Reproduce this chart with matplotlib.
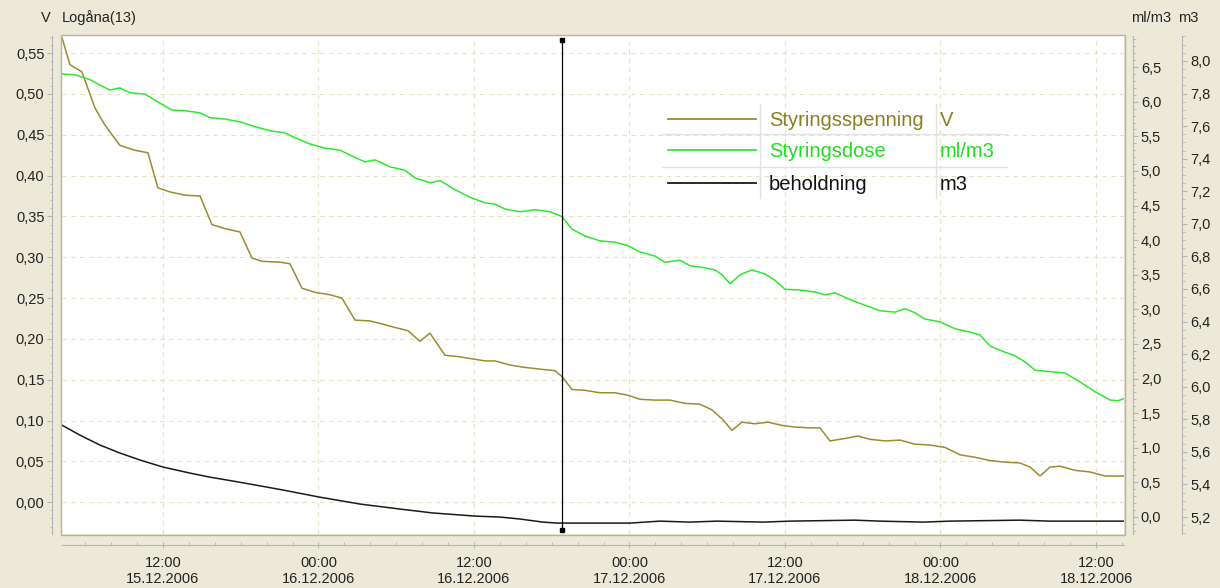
import datetime as dt
import matplotlib
matplotlib.use("Agg")
import matplotlib.pyplot as plt
import matplotlib.dates as mdates
from matplotlib.lines import Line2D
from matplotlib.patches import Rectangle
from matplotlib.ticker import MultipleLocator, AutoMinorLocator, FuncFormatter
from matplotlib import rcParams

rcParams['font.family'] = ['Liberation Sans', 'DejaVu Sans']
rcParams['font.size'] = 10.5

# --- data (hours after 15.12.2006 00:00) ---
base = dt.datetime(2006, 12, 15, 0, 0)

spenning_h = [4.21, 4.82, 5.75, 6.75, 7.52, 8.68, 9.84, 10.84, 11.61, 12.54, 13.70, 14.86,
              15.78, 16.78, 17.94, 18.87, 19.64, 21.03, 21.80, 22.73, 23.73, 24.89, 25.81,
              26.82, 27.97, 28.98, 29.90, 30.91, 31.83, 32.60, 33.76, 34.92, 35.69, 36.85,
              37.62, 38.78, 39.94, 41.09, 42.25, 42.79, 43.56, 44.57, 45.72, 46.88, 47.88,
              48.81, 49.97, 51.13, 52.28, 53.44, 54.37, 55.14, 55.91, 56.68, 57.68, 58.69,
              59.77, 60.77, 61.93, 62.70, 63.47, 64.63, 65.63, 66.56, 67.72, 68.88, 70.03,
              71.19, 72.35, 73.50, 74.66, 75.82, 76.98, 78.13, 78.91, 79.68, 80.45, 81.22,
              82.38, 83.54, 84.70, 86.16]
spenning_v = [0.569, 0.536, 0.527, 0.483, 0.462, 0.437, 0.431, 0.428, 0.385, 0.380, 0.376, 0.375,
              0.340, 0.335, 0.331, 0.299, 0.295, 0.294, 0.292, 0.262, 0.257, 0.254, 0.250,
              0.223, 0.222, 0.218, 0.214, 0.210, 0.197, 0.207, 0.180, 0.178, 0.176, 0.173,
              0.173, 0.168, 0.165, 0.163, 0.161, 0.154, 0.138, 0.137, 0.134, 0.134, 0.131,
              0.126, 0.125, 0.125, 0.121, 0.120, 0.113, 0.102, 0.088, 0.098, 0.096, 0.098,
              0.094, 0.092, 0.091, 0.091, 0.075, 0.078, 0.081, 0.077, 0.075, 0.076, 0.071,
              0.070, 0.067, 0.058, 0.055, 0.051, 0.049, 0.048, 0.043, 0.032, 0.043, 0.044,
              0.039, 0.037, 0.032, 0.032]

dose_h = [4.21, 5.21, 6.37, 7.14, 7.91, 8.68, 9.45, 10.61, 11.77, 12.69, 13.70, 14.86, 15.63,
          16.78, 17.94, 19.10, 20.26, 21.41, 22.19, 23.34, 24.50, 25.66, 26.43, 27.59, 28.36,
          29.52, 30.68, 31.45, 32.60, 33.38, 34.53, 35.69, 36.85, 37.62, 38.39, 39.55, 40.71,
          41.87, 42.79, 43.56, 44.57, 45.72, 46.88, 47.88, 48.81, 49.97, 50.74, 51.90, 52.67,
          53.83, 54.60, 55.14, 55.76, 56.53, 57.45, 58.46, 59.23, 60.00, 61.16, 62.31, 63.09,
          63.86, 65.02, 66.17, 67.33, 68.49, 69.26, 70.03, 70.80, 71.96, 73.12, 74.28, 75.05,
          75.82, 76.98, 77.75, 78.52, 79.29, 80.45, 81.61, 82.77, 83.92, 85.08, 85.70, 86.16]
dose_v = [6.40, 6.39, 6.32, 6.24, 6.17, 6.20, 6.13, 6.11, 5.98, 5.88, 5.87, 5.84, 5.77,
          5.75, 5.71, 5.64, 5.58, 5.55, 5.48, 5.39, 5.33, 5.30, 5.23, 5.13, 5.16,
          5.06, 5.01, 4.90, 4.83, 4.86, 4.73, 4.62, 4.54, 4.52, 4.45, 4.41, 4.44,
          4.41, 4.34, 4.16, 4.06, 3.99, 3.97, 3.92, 3.83, 3.77, 3.68, 3.71, 3.63,
          3.60, 3.57, 3.50, 3.37, 3.50, 3.57, 3.51, 3.42, 3.29, 3.28, 3.25, 3.21,
          3.24, 3.14, 3.06, 2.98, 2.96, 3.01, 2.95, 2.86, 2.82, 2.72, 2.67, 2.63,
          2.47, 2.38, 2.33, 2.24, 2.12, 2.10, 2.08, 1.95, 1.81, 1.69, 1.68, 1.71]

beh_h = [4.21, 5.59, 7.14, 8.68, 10.23, 12.00, 14.08, 15.63, 17.40, 19.18, 21.26, 24.04,
         27.20, 30.29, 32.84, 36.08, 38.01, 39.55, 41.32, 42.41, 45.72, 48.04, 50.35,
         52.67, 54.75, 58.30, 60.39, 65.40, 67.33, 70.65, 72.73, 78.13, 80.45, 86.16]
beh_v = [5.764, 5.703, 5.642, 5.593, 5.550, 5.507, 5.470, 5.445, 5.421, 5.396, 5.366, 5.323,
         5.280, 5.249, 5.225, 5.206, 5.200, 5.188, 5.169, 5.163, 5.163, 5.163, 5.175,
         5.169, 5.175, 5.169, 5.175, 5.181, 5.175, 5.169, 5.175, 5.181, 5.175, 5.175]

cursor_h = 42.79
t_start_h, t_end_h = 4.21, 86.16

series_names = ['Styringsspenning', 'Styringsdose', 'beholdning']
series_units = ['V', 'ml/m3', 'm3']
c_spenning = '#9a8c30'
c_dose = '#2ee82e'
c_beh = '#1a1a1a'
series_colors = [c_spenning, c_dose, c_beh]


def to_time(hours):
    return [base + dt.timedelta(hours=h) for h in hours]


W, H = 1220, 588
fx = lambda px: px / W
fy = lambda py: 1 - py / H

bg = '#ece9d8'
tick_c = '#b4b4b4'
text_c = '#222222'
grid_c = '#e6e2c6'

fig = plt.figure(figsize=(12.2, 5.88), dpi=100, facecolor=bg)
ax = fig.add_axes([fx(62), fy(534), fx(1124) - fx(62), (534 - 36) / H])
ax.set_facecolor('white')
ax2 = ax.twinx()
ax3 = ax.twinx()

ax.plot(to_time(spenning_h), spenning_v, color=c_spenning, lw=1.1)
ax2.plot(to_time(dose_h), dose_v, color=c_dose, lw=1.1)
ax3.plot(to_time(beh_h), beh_v, color=c_beh, lw=1.1)

ax.set_xlim(base + dt.timedelta(hours=t_start_h), base + dt.timedelta(hours=t_end_h))
ax.set_ylim(-0.039, 0.571)
ax2.set_ylim(-0.246, 6.95)
ax3.set_ylim(5.096, 8.153)

comma = lambda d: FuncFormatter(lambda v, p: f"{v:.{d}f}".replace('.', ','))

# left axis
ax.yaxis.set_major_locator(MultipleLocator(0.05))
ax.yaxis.set_minor_locator(AutoMinorLocator(5))
ax.yaxis.set_major_formatter(comma(2))
ax.tick_params(axis='y', which='major', direction='out', length=3.6, color=tick_c,
               labelcolor=text_c, pad=2)
ax.tick_params(axis='y', which='minor', direction='out', length=1.8, color=tick_c)

# time axis
ax.xaxis.set_major_locator(mdates.HourLocator(byhour=[0, 12]))
ax.xaxis.set_minor_locator(mdates.HourLocator(byhour=range(0, 24, 2)))
ax.xaxis.set_major_formatter(mdates.DateFormatter('%H:%M\n%d.%m.%Y'))
ax.tick_params(axis='x', which='major', direction='inout', length=4.5, color=tick_c,
               labelcolor=text_c, pad=5.5)
ax.tick_params(axis='x', which='minor', direction='in', length=2, color=tick_c)

for s in ['top', 'right']:
    ax.spines[s].set_visible(False)
ax.spines['left'].set_position(('outward', 7))
ax.spines['bottom'].set_position(('outward', 8))
ax.spines['left'].set_color(tick_c)
ax.spines['bottom'].set_color(tick_c)

ax.grid(True, which='major', color=grid_c, ls=(0, (4, 4)), lw=0.8)
ax.set_axisbelow(True)

# right axes
for a, off, step, minor, dec in [(ax2, 6.5, 0.5, 5, 1), (ax3, 42, 0.2, 4, 1)]:
    for s in ['top', 'left', 'bottom']:
        a.spines[s].set_visible(False)
    a.spines['right'].set_position(('outward', off))
    a.spines['right'].set_color(tick_c)
    a.yaxis.set_major_locator(MultipleLocator(step))
    a.yaxis.set_minor_locator(AutoMinorLocator(minor))
    a.yaxis.set_major_formatter(comma(dec))
    a.tick_params(axis='y', which='major', direction='out', length=3.6, color=tick_c,
                  labelcolor=text_c, pad=2)
    a.tick_params(axis='y', which='minor', direction='out', length=1.8, color=tick_c)

# plot frame
fig.add_artist(Rectangle((fx(61), fy(535)), fx(1125) - fx(61), (535 - 35) / H,
                         transform=fig.transFigure, fill=False, ec='#b8b4a2', lw=1))

# cursor
cx = mdates.date2num(base + dt.timedelta(hours=cursor_h))
ax3.plot([cx, cx], [0.008, 0.992], transform=ax3.get_xaxis_transform(), color='black',
         lw=0.9, marker='s', ms=3.5, clip_on=False)

# axis captions
fig.text(fx(46), fy(18), 'V', ha='center', va='center', color=text_c)
fig.text(fx(62), fy(18), 'Logåna(13)', ha='left', va='center', color=text_c)
fig.text(fx(1131), fy(18), 'ml/m3', ha='left', va='center', color=text_c)
fig.text(fx(1178), fy(18), 'm3', ha='left', va='center', color=text_c)

# legend table
row_y = [119, 150, 183]
sep_c = '#e2e2e2'
for y in [134, 167]:
    fig.add_artist(Line2D([fx(662), fx(1007)], [fy(y), fy(y)], transform=fig.transFigure,
                          color=sep_c, lw=1))
for x in [760, 936]:
    fig.add_artist(Line2D([fx(x), fx(x)], [fy(104), fy(198)], transform=fig.transFigure,
                          color=sep_c, lw=1))
for y, name, unit, col in zip(row_y, series_names, series_units, series_colors):
    fig.add_artist(Line2D([fx(668), fx(756)], [fy(y), fy(y)], transform=fig.transFigure,
                          color=col, lw=1.3))
    tcol = '#8c7e22' if col == c_spenning else ('#22dd22' if col == c_dose else '#111111')
    fig.text(fx(769), fy(y + 7), name, ha='left', va='baseline', color=tcol, fontsize=14.5)
    fig.text(fx(940), fy(y + 7), unit, ha='left', va='baseline', color=tcol, fontsize=14.5)

fig.canvas.draw()
for lbl in ax.get_xticklabels():
    lbl.set_linespacing(1.15)

fig.savefig('out.png', dpi=100, facecolor=bg)
